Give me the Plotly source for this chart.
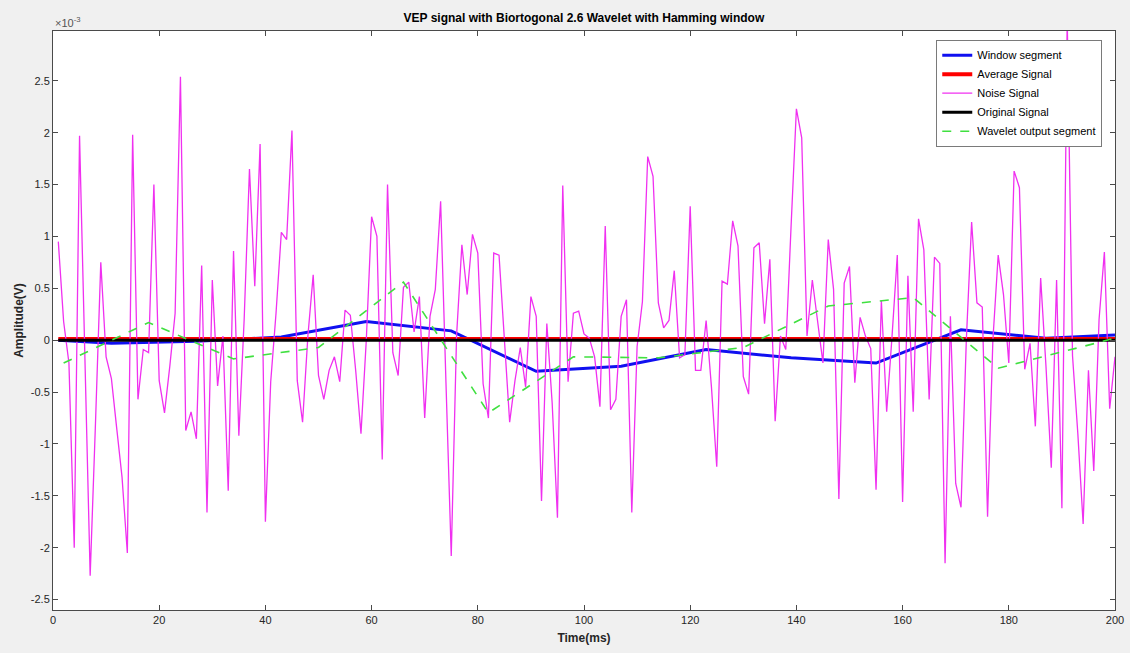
import plotly.graph_objects as go

# ---------------- data (amplitudes in units of 1e-3 V) ----------------
time_ms = list(range(1, 201))

noise_signal = [
    0.95, 0.18, -0.22, -2.00, 1.97, -0.10, -2.27, -0.80, 0.75, -0.16,
    -0.37, -0.85, -1.32, -2.05, 1.98, -0.57, -0.09, -0.12, 1.50, -0.39,
    -0.70, -0.25, 0.26, 2.54, -0.87, -0.69, -0.95, 0.72, -1.66, 0.58,
    -0.44, 0.04, -1.45, 0.86, -0.92, 0.20, 1.65, 0.52, 1.89, -1.75,
    -0.40, 0.26, 1.04, 0.97, 2.02, -0.39, -0.79, 0.04, 0.63, -0.34,
    -0.57, -0.29, -0.16, -0.40, 0.29, 0.24, -0.29, -0.90, 0.00, 1.19,
    1.00, -1.15, 1.50, -0.12, -0.34, 0.51, 0.56, 0.08, 0.42, -0.75,
    0.23, 0.49, 1.34, -0.40, -2.08, 0.04, 0.92, 0.44, 1.02, 0.84,
    -0.42, -0.75, 0.84, 0.82, 0.04, -0.79, -0.39, -0.07, -0.45, 0.42,
    0.23, -1.55, 0.16, -0.60, -1.71, 1.49, -0.40, 0.26, 0.28, 0.06,
    0.02, -0.16, -0.64, 1.10, -0.67, -0.57, 0.23, 0.39, -1.66, -0.06,
    0.37, 1.77, 1.58, 0.36, 0.12, 0.19, 0.67, -0.17, -0.14, 1.29,
    -0.29, -0.29, 0.19, -0.45, -1.22, 0.57, 0.54, 1.15, 0.91, -0.35,
    -0.52, 0.89, 0.94, 0.16, 0.78, -0.78, 0.04, -0.09, 1.10, 2.23,
    1.95, 0.04, 0.58, 0.20, -0.22, 0.97, 0.49, -1.53, 0.55, 0.71,
    -0.41, 0.22, 0.04, -0.08, -1.44, 0.38, -0.69, 0.03, 0.82, -1.56,
    0.62, -0.69, 1.17, 0.87, -0.57, 0.80, 0.74, -2.15, 0.23, -1.38,
    -1.61, 0.00, 1.14, 0.36, 0.32, -1.70, 0.00, 0.82, 0.44, -0.22,
    1.63, 1.47, -0.28, -0.03, -0.83, 0.60, -0.25, -1.23, 0.58, -1.62,
    3.10, -0.15, -0.90, -1.77, -0.29, -1.26, 0.20, 0.85, -0.66, -0.16,
]

window_t = [1, 11, 27, 43, 59, 75, 91, 107, 123, 139, 155, 171, 187, 200]
window_segment = [0.0, -0.03, -0.01, 0.03, 0.18, 0.09, -0.30, -0.25, -0.09,
                  -0.17, -0.22, 0.10, 0.02, 0.05]

wavelet_t = [2, 18, 34, 50, 66, 82, 98, 114, 130, 146, 162, 178, 194, 200]
wavelet_segment = [-0.22, 0.17, -0.18, -0.07, 0.56, -0.70, -0.16, -0.17,
                   -0.07, 0.33, 0.41, -0.27, -0.06, 0.02]

average_t = [1, 200]
average_signal = [0.012, 0.012]

original_t = [1, 200]
original_signal = [0.0, 0.0]

y_ticks = [-2.5, -2, -1.5, -1, -0.5, 0, 0.5, 1, 1.5, 2, 2.5]
y_tick_text = ["-2.5", "-2", "-1.5", "-1", "-0.5", "0", "0.5", "1", "1.5", "2", "2.5"]
x_ticks = [0, 20, 40, 60, 80, 100, 120, 140, 160, 180, 200]

# ---------------- figure ----------------
FONT = "Liberation Sans, Arial, Helvetica, sans-serif"
fig = go.Figure()

fig.add_trace(go.Scatter(x=window_t, y=window_segment, mode="lines",
                         name="Window segment",
                         line=dict(color="#1010f0", width=3)))
fig.add_trace(go.Scatter(x=average_t, y=average_signal, mode="lines",
                         name="Average Signal",
                         line=dict(color="#ff0000", width=4)))
fig.add_trace(go.Scatter(x=time_ms, y=noise_signal, mode="lines",
                         name="Noise Signal",
                         line=dict(color="#f030f0", width=1.3)))
fig.add_trace(go.Scatter(x=original_t, y=original_signal, mode="lines",
                         name="Original Signal",
                         line=dict(color="#000000", width=3)))
fig.add_trace(go.Scatter(x=wavelet_t, y=wavelet_segment, mode="lines",
                         name="Wavelet output segment",
                         line=dict(color="#40e040", width=1.6, dash="dash")))

axis_common = dict(
    showline=True, linecolor="#4a4a4a", linewidth=1, mirror="ticks",
    ticks="inside", ticklen=5, tickcolor="#4a4a4a", showgrid=False,
    zeroline=False, automargin=False,
    tickfont=dict(family=FONT, size=11, color="#262626"),
)

fig.update_layout(
    width=1130, height=653,
    paper_bgcolor="#f0f0f0", plot_bgcolor="#ffffff",
    margin=dict(l=53, r=15, t=31, b=43, autoexpand=False),
    title=dict(text="<b>VEP signal with Biortogonal 2.6 Wavelet with Hamming window</b>",
               x=0.5167, xanchor="center", y=0.972, yanchor="middle",
               font=dict(family=FONT, size=12, color="#000000")),
    xaxis=dict(range=[0, 200], tickvals=x_ticks,
               title=dict(text="<b>Time(ms)</b>", standoff=8,
                          font=dict(family=FONT, size=12, color="#262626")),
               **axis_common),
    yaxis=dict(range=[-2.6, 2.98], tickvals=y_ticks, ticktext=y_tick_text,
               title=dict(text="<b>Amplitude(V)</b>", standoff=4,
                          font=dict(family=FONT, size=12, color="#262626")),
               **axis_common),
    legend=dict(x=0.988, xanchor="right", y=0.985, yanchor="top",
                bgcolor="#ffffff", bordercolor="#7a7a7a", borderwidth=1,
                font=dict(family=FONT, size=11, color="#000000"),
                tracegroupgap=0, itemwidth=30),
    showlegend=True,
    annotations=[dict(text="×10<sup>-3</sup>", xref="paper", yref="paper",
                      x=0, y=1.0, xanchor="left", yanchor="bottom",
                      showarrow=False, yshift=0,
                      font=dict(family=FONT, size=11, color="#555555"))],
)

fig.write_html("out.html",
               config={"displayModeBar": False},
               post_script="document.body.style.margin='0';"
                           "document.body.style.background='#ffffff';")
